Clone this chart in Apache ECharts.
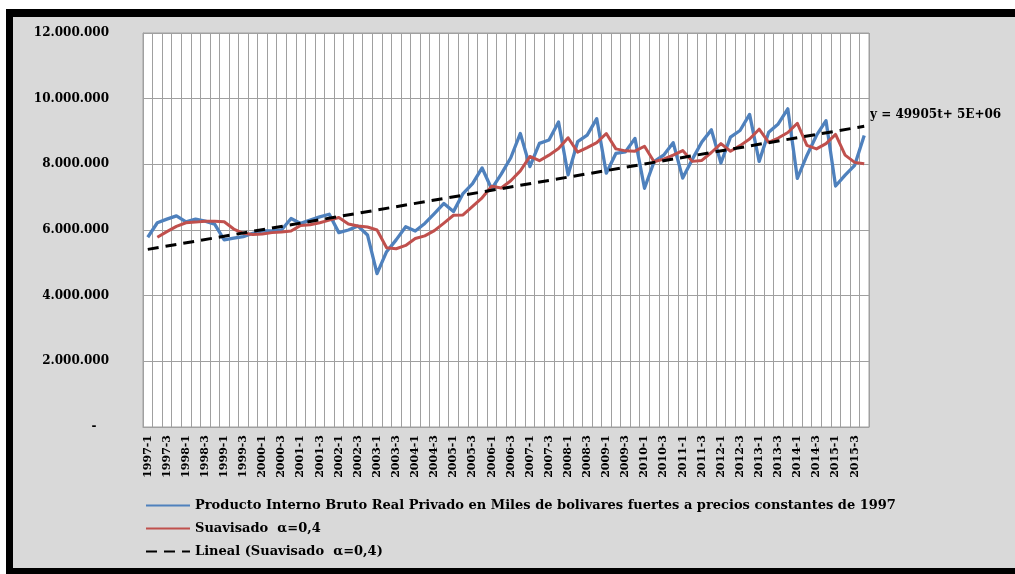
<!DOCTYPE html>
<html>
<head>
<meta charset="utf-8">
<script src="https://cdn.jsdelivr.net/npm/echarts@6/dist/echarts.min.js"></script>
<style>
  html, body { margin:0; padding:0; background:#fff; width:1015px; height:574px; overflow:hidden; }
  #frame { position:absolute; left:6px; top:9px; width:1030px; height:565px; box-sizing:border-box;
           border-style:solid; border-color:#000; border-width:8px 0 6px 7px; background:#d9d9d9; }
  #chart { position:absolute; left:0; top:0; width:1015px; height:574px; }
</style>
</head>
<body>
<div id="frame"></div>
<div id="chart"></div>
<script>
const categories = [
  '1997-1','1997-2','1997-3','1997-4','1998-1','1998-2','1998-3','1998-4',
  '1999-1','1999-2','1999-3','1999-4','2000-1','2000-2','2000-3','2000-4',
  '2001-1','2001-2','2001-3','2001-4','2002-1','2002-2','2002-3','2002-4',
  '2003-1','2003-2','2003-3','2003-4','2004-1','2004-2','2004-3','2004-4',
  '2005-1','2005-2','2005-3','2005-4','2006-1','2006-2','2006-3','2006-4',
  '2007-1','2007-2','2007-3','2007-4','2008-1','2008-2','2008-3','2008-4',
  '2009-1','2009-2','2009-3','2009-4','2010-1','2010-2','2010-3','2010-4',
  '2011-1','2011-2','2011-3','2011-4','2012-1','2012-2','2012-3','2012-4',
  '2013-1','2013-2','2013-3','2013-4','2014-1','2014-2','2014-3','2014-4',
  '2015-1','2015-2','2015-3','2015-4'
];

const pibPrivado = [
  5780000, 6220000, 6330000, 6430000, 6250000, 6330000, 6270000, 6180000,
  5700000, 5750000, 5800000, 5900000, 5970000, 5970000, 6000000, 6350000,
  6200000, 6300000, 6400000, 6480000, 5920000, 6000000, 6120000, 5850000,
  4670000, 5340000, 5700000, 6100000, 5970000, 6200000, 6500000, 6810000,
  6560000, 7110000, 7410000, 7890000, 7250000, 7700000, 8200000, 8940000,
  7930000, 8640000, 8740000, 9290000, 7680000, 8690000, 8890000, 9390000,
  7730000, 8330000, 8380000, 8790000, 7270000, 8080000, 8280000, 8660000,
  7580000, 8150000, 8680000, 9050000, 8040000, 8830000, 9030000, 9520000,
  8090000, 8980000, 9230000, 9690000, 7570000, 8270000, 8880000, 9330000,
  7340000, 7670000, 7970000, 8880000
];

const suavisado = [
  null,    5780000, 5950000, 6110000, 6220000, 6240000, 6270000, 6270000,
  6250000, 6030000, 5900000, 5860000, 5880000, 5920000, 5940000, 5970000,
  6140000, 6160000, 6220000, 6300000, 6380000, 6180000, 6120000, 6090000,
  6000000, 5460000, 5430000, 5530000, 5740000, 5820000, 5980000, 6210000,
  6450000, 6460000, 6720000, 6980000, 7330000, 7280000, 7500000, 7800000,
  8240000, 8110000, 8280000, 8480000, 8810000, 8370000, 8510000, 8660000,
  8940000, 8470000, 8410000, 8400000, 8550000, 8080000, 8160000, 8280000,
  8420000, 8090000, 8120000, 8360000, 8630000, 8400000, 8570000, 8770000,
  9070000, 8670000, 8800000, 8970000, 9250000, 8580000, 8470000, 8630000,
  8910000, 8280000, 8060000, 8020000
];

// Linear trend line endpoints (first and last category)
const trendEnds = [5410000, 9160000];
const trendLabel = 'y = 49905t+ 5E+06';

const yTicks = { min: 0, max: 12000000, interval: 2000000 };

const seriesNames = [
  'Producto Interno Bruto Real Privado en Miles de bolivares fuertes a precios constantes de 1997',
  'Suavisado  \u03b1=0,4',
  'Lineal (Suavisado  \u03b1=0,4)'
];

const trendData = categories.map((c, i) =>
  i === 0 ? trendEnds[0] : (i === categories.length - 1 ? trendEnds[1] : null));

function fmt(v) {
  if (v === 0) return '-   ';
  return String(v).replace(/\B(?=(\d{3})+(?!\d))/g, '.');
}

const FONT = 'DejaVu Serif';
const chart = echarts.init(document.getElementById('chart'), null, { renderer: 'canvas' });
chart.setOption({
  backgroundColor: 'transparent',
  animation: false,
  grid: {
    left: 143, top: 33, width: 726, height: 394,
    show: true, backgroundColor: '#ffffff', borderColor: '#a0a0a0', borderWidth: 1,
    containLabel: false
  },
  legend: {
    orient: 'vertical', left: 140, top: 494,
    itemWidth: 44, itemHeight: 14, itemGap: 10,
    itemStyle: { opacity: 0 },
    textStyle: { fontFamily: FONT, fontWeight: 'bold', fontSize: 13, color: '#000' },
    data: seriesNames.map(n => ({ name: n }))
  },
  xAxis: {
    type: 'category', data: categories, boundaryGap: true,
    axisLine: { show: true, lineStyle: { color: '#a0a0a0', width: 1 } },
    axisTick: { show: true, interval: 0, length: 0, lineStyle: { color: '#a0a0a0' } },
    splitLine: { show: true, interval: 0, lineStyle: { color: '#a0a0a0', width: 1 } },
    axisLabel: {
      interval: 1, rotate: 90, margin: 8,
      fontFamily: FONT, fontWeight: 'bold', fontSize: 11, color: '#000'
    }
  },
  yAxis: {
    type: 'value', min: yTicks.min, max: yTicks.max, interval: yTicks.interval,
    axisLine: { show: true, lineStyle: { color: '#a0a0a0', width: 1 } },
    axisTick: { show: false },
    splitLine: { show: true, lineStyle: { color: '#a0a0a0', width: 1 } },
    axisLabel: {
      margin: 34, formatter: fmt,
      fontFamily: FONT, fontWeight: 'bold', fontSize: 12, color: '#000'
    }
  },
  graphic: [{
    type: 'text', left: 870, top: 109,
    style: { text: trendLabel, fontFamily: FONT, fontWeight: 'bold', fontSize: 12, fill: '#000' }
  }],
  series: [
    {
      name: seriesNames[0], type: 'line', data: pibPrivado, symbol: 'none',
      lineStyle: { color: '#4f81bd', width: 3.3, join: 'round' }, itemStyle: { color: '#4f81bd' }
    },
    {
      name: seriesNames[1], type: 'line', data: suavisado, symbol: 'none',
      lineStyle: { color: '#c0504d', width: 3, join: 'round' }, itemStyle: { color: '#c0504d' }
    },
    {
      name: seriesNames[2], type: 'line', data: trendData, symbol: 'none', connectNulls: true,
      lineStyle: { color: '#000', width: 3, type: [11, 7] }, itemStyle: { color: '#000' }
    }
  ]
});
</script>
</body>
</html>
